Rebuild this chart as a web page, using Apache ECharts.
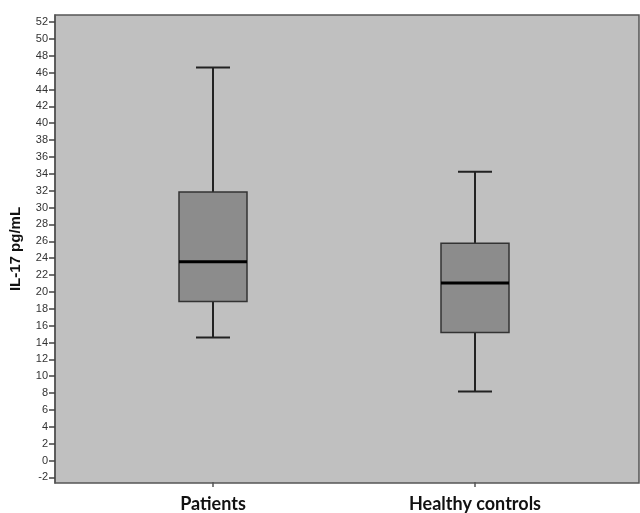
<!DOCTYPE html>
<html><head><meta charset="utf-8">
<script src="https://cdn.jsdelivr.net/npm/echarts@6/dist/echarts.min.js"></script>
<style>html,body{margin:0;padding:0;background:#fff}#c{width:640px;height:513px}</style>
</head><body><div id="c"></div>
<script>
const categories = ['Patients', 'Healthy controls'];
// [lowerWhisker, Q1, median, Q3, upperWhisker]
const boxValues = [
  [14.5, 18.8, 23.5, 31.8, 46.6],
  [8.1, 15.1, 21.0, 25.7, 34.2]
];
const yTicks = [-2,0,2,4,6,8,10,12,14,16,18,20,22,24,26,28,30,32,34,36,38,40,42,44,46,48,50,52];
const yMin = -2.66, yMax = 52.83;

const chart = echarts.init(document.getElementById('c'));
chart.setOption({
  animation: false,
  grid: [
    {left: 52, top: 15, right: 1, bottom: 30, show: true, backgroundColor: '#c0c0c0', borderColor: '#555', borderWidth: 1.5},
    {left: 82, top: 15, right: 34, bottom: 30}
  ],
  xAxis: [
    {gridIndex: 0, type: 'value', min: 0, max: 1, show: false},
    {gridIndex: 1, type: 'category', data: categories,
     axisLine: {show: false, onZero: false},
     axisTick: {show: true, alignWithLabel: true, length: 5, lineStyle: {color: '#555', width: 1.5}},
     axisLabel: {margin: 13, fontFamily: 'Lato', fontWeight: 'bold', fontSize: 18, color: '#111'}}
  ],
  yAxis: [
    {gridIndex: 0, type: 'value', min: yMin, max: yMax,
     name: 'IL-17 pg/mL', nameLocation: 'middle', nameGap: 32, nameRotate: 90,
     nameTextStyle: {fontFamily: 'Liberation Sans', fontWeight: 'bold', fontSize: 15, color: '#111'},
     axisLine: {show: true, onZero: false, lineStyle: {color: '#555', width: 1.5}},
     axisTick: {show: true, length: 6, customValues: yTicks, lineStyle: {color: '#444', width: 1.5}},
     axisLabel: {customValues: yTicks, margin: 7, fontFamily: 'Liberation Sans Narrow, Liberation Sans', fontSize: 11, color: '#333'},
     splitLine: {show: false}},
    {gridIndex: 1, type: 'value', min: yMin, max: yMax, show: false}
  ],
  series: [{
    type: 'custom', xAxisIndex: 1, yAxisIndex: 1,
    data: boxValues.map((v, i) => [i].concat(v)),
    encode: {x: 0, y: [1,2,3,4,5]},
    renderItem: function (params, api) {
      const x = api.value(0);
      const lo = api.coord([x, api.value(1)]);
      const q1 = api.coord([x, api.value(2)]);
      const med = api.coord([x, api.value(3)]);
      const q3 = api.coord([x, api.value(4)]);
      const hi = api.coord([x, api.value(5)]);
      const cx = lo[0], hw = 34, cw = 17;
      const ls = {stroke: '#222', lineWidth: 2};
      return {type: 'group', children: [
        {type: 'line', shape: {x1: cx, y1: hi[1], x2: cx, y2: q3[1]}, style: ls},
        {type: 'line', shape: {x1: cx, y1: q1[1], x2: cx, y2: lo[1]}, style: ls},
        {type: 'line', shape: {x1: cx - cw, y1: hi[1], x2: cx + cw, y2: hi[1]}, style: ls},
        {type: 'line', shape: {x1: cx - cw, y1: lo[1], x2: cx + cw, y2: lo[1]}, style: ls},
        {type: 'rect', shape: {x: cx - hw, y: q3[1], width: hw * 2, height: q1[1] - q3[1]},
         style: {fill: '#8c8c8c', stroke: '#333', lineWidth: 1.5}},
        {type: 'line', shape: {x1: cx - hw, y1: med[1], x2: cx + hw, y2: med[1]}, style: {stroke: '#000', lineWidth: 3}}
      ]};
    }
  }]
});
</script></body></html>
